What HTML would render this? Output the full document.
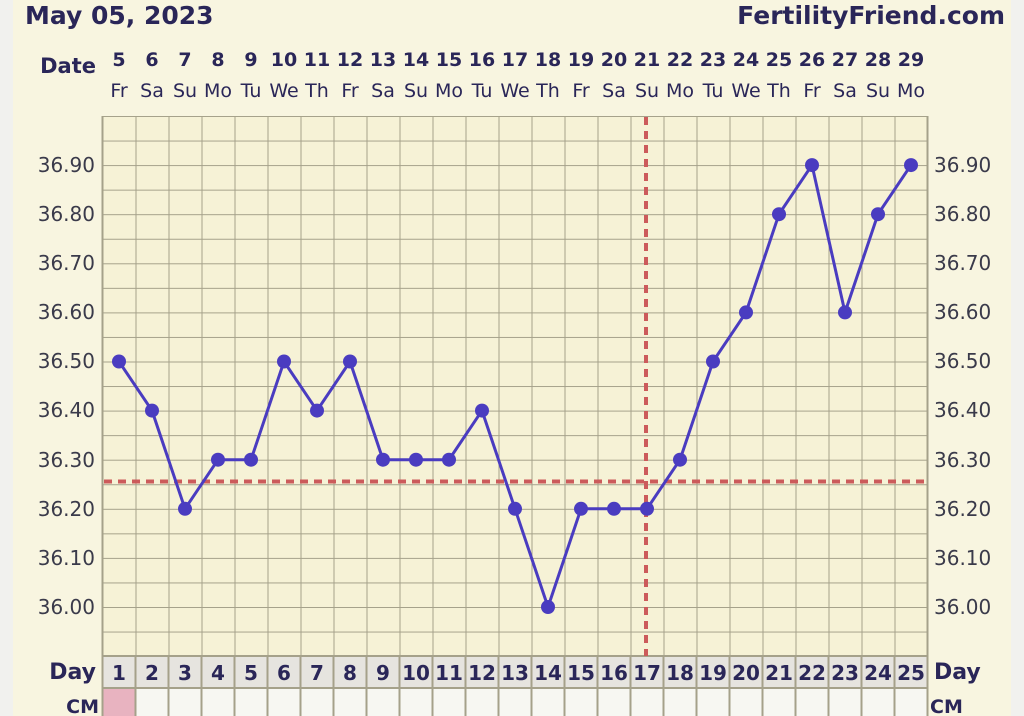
<!DOCTYPE html>
<html><head><meta charset="utf-8"><style>
html,body{margin:0;padding:0;background:#f1f1ee;}
svg{display:block;font-family:"DejaVu Sans","Liberation Sans",sans-serif;}
</style></head><body>
<svg width="1024" height="716" viewBox="0 0 1024 716" xmlns="http://www.w3.org/2000/svg">
<defs>
<pattern id="g" x="102.5" y="116" width="33" height="24.55" patternUnits="userSpaceOnUse">
<path d="M0 0H33M0 0V24.55" stroke="#a5a18a" stroke-width="2" fill="none"/>
</pattern>
</defs>
<rect x="13" y="0" width="998" height="716" fill="#f8f5e0"/>
<rect x="102.5" y="116" width="825" height="540" fill="#f6f2d6"/>
<rect x="102.5" y="116" width="825" height="540" fill="url(#g)"/>
<rect x="102.5" y="656" width="825" height="32" fill="#e6e4df"/>
<rect x="102.5" y="688" width="825" height="28" fill="#f7f7f2"/>
<rect x="103.5" y="689" width="32" height="27" fill="#e8b3c0"/>
<g stroke="#a5a18a" stroke-width="2">
<path d="M102.5 116V716M135.5 656V716M168.5 656V716M201.5 656V716M234.5 656V716M267.5 656V716M300.5 656V716M333.5 656V716M366.5 656V716M399.5 656V716M432.5 656V716M465.5 656V716M498.5 656V716M531.5 656V716M564.5 656V716M597.5 656V716M630.5 656V716M663.5 656V716M696.5 656V716M729.5 656V716M762.5 656V716M795.5 656V716M828.5 656V716M861.5 656V716M894.5 656V716M927.5 116V716M102.5 656H927.5M102.5 688H927.5"/>
</g>
<g font-weight="bold" fill="#2a2658">
<text x="25" y="24" font-size="25">May 05, 2023</text>
<text x="1005" y="24" font-size="25" text-anchor="end">FertilityFriend.com</text>
<text x="96" y="73" font-size="21" text-anchor="end">Date</text>
<text x="96" y="679" font-size="22" text-anchor="end">Day</text>
<text x="934" y="679" font-size="22">Day</text>
<text x="99" y="713" font-size="19" text-anchor="end">CM</text>
<text x="930" y="713" font-size="19">CM</text>
</g>
<g font-weight="bold" fill="#2a2658" font-size="19" text-anchor="middle">
<text x="119" y="66">5</text><text x="152" y="66">6</text><text x="185" y="66">7</text><text x="218" y="66">8</text><text x="251" y="66">9</text><text x="284" y="66">10</text><text x="317" y="66">11</text><text x="350" y="66">12</text><text x="383" y="66">13</text><text x="416" y="66">14</text><text x="449" y="66">15</text><text x="482" y="66">16</text><text x="515" y="66">17</text><text x="548" y="66">18</text><text x="581" y="66">19</text><text x="614" y="66">20</text><text x="647" y="66">21</text><text x="680" y="66">22</text><text x="713" y="66">23</text><text x="746" y="66">24</text><text x="779" y="66">25</text><text x="812" y="66">26</text><text x="845" y="66">27</text><text x="878" y="66">28</text><text x="911" y="66">29</text>
</g>
<g font-weight="bold" fill="#2a2658" font-size="20" text-anchor="middle">
<text x="119" y="680">1</text><text x="152" y="680">2</text><text x="185" y="680">3</text><text x="218" y="680">4</text><text x="251" y="680">5</text><text x="284" y="680">6</text><text x="317" y="680">7</text><text x="350" y="680">8</text><text x="383" y="680">9</text><text x="416" y="680">10</text><text x="449" y="680">11</text><text x="482" y="680">12</text><text x="515" y="680">13</text><text x="548" y="680">14</text><text x="581" y="680">15</text><text x="614" y="680">16</text><text x="647" y="680">17</text><text x="680" y="680">18</text><text x="713" y="680">19</text><text x="746" y="680">20</text><text x="779" y="680">21</text><text x="812" y="680">22</text><text x="845" y="680">23</text><text x="878" y="680">24</text><text x="911" y="680">25</text>
</g>
<g fill="#2a2658" font-size="19" text-anchor="middle">
<text x="119" y="97">Fr</text><text x="152" y="97">Sa</text><text x="185" y="97">Su</text><text x="218" y="97">Mo</text><text x="251" y="97">Tu</text><text x="284" y="97">We</text><text x="317" y="97">Th</text><text x="350" y="97">Fr</text><text x="383" y="97">Sa</text><text x="416" y="97">Su</text><text x="449" y="97">Mo</text><text x="482" y="97">Tu</text><text x="515" y="97">We</text><text x="548" y="97">Th</text><text x="581" y="97">Fr</text><text x="614" y="97">Sa</text><text x="647" y="97">Su</text><text x="680" y="97">Mo</text><text x="713" y="97">Tu</text><text x="746" y="97">We</text><text x="779" y="97">Th</text><text x="812" y="97">Fr</text><text x="845" y="97">Sa</text><text x="878" y="97">Su</text><text x="911" y="97">Mo</text>
</g>
<g fill="#3a3a4a" font-size="20">
<g text-anchor="end">
<text x="95" y="172">36.90</text><text x="95" y="221">36.80</text><text x="95" y="270">36.70</text><text x="95" y="319">36.60</text><text x="95" y="368">36.50</text><text x="95" y="417">36.40</text><text x="95" y="467">36.30</text><text x="95" y="516">36.20</text><text x="95" y="565">36.10</text><text x="95" y="614">36.00</text>
</g>
<text x="934" y="172">36.90</text><text x="934" y="221">36.80</text><text x="934" y="270">36.70</text><text x="934" y="319">36.60</text><text x="934" y="368">36.50</text><text x="934" y="417">36.40</text><text x="934" y="467">36.30</text><text x="934" y="516">36.20</text><text x="934" y="565">36.10</text><text x="934" y="614">36.00</text>
</g>
<g stroke="#cc5b5b" stroke-width="4" stroke-dasharray="8 6" fill="none">
<path d="M104 481.5H927"/>
<path d="M646 117V656"/>
</g>
<polyline fill="none" stroke="#4a3cc0" stroke-width="3" points="119,361.5 152,410.6 185,508.8 218,459.7 251,459.7 284,361.5 317,410.6 350,361.5 383,459.7 416,459.7 449,459.7 482,410.6 515,508.8 548,607 581,508.8 614,508.8 647,508.8 680,459.7 713,361.5 746,312.4 779,214.2 812,165.1 845,312.4 878,214.2 911,165.1"/>
<g fill="#4a3cc0">
<circle cx="119" cy="361.5" r="7"/><circle cx="152" cy="410.6" r="7"/><circle cx="185" cy="508.8" r="7"/><circle cx="218" cy="459.7" r="7"/><circle cx="251" cy="459.7" r="7"/><circle cx="284" cy="361.5" r="7"/><circle cx="317" cy="410.6" r="7"/><circle cx="350" cy="361.5" r="7"/><circle cx="383" cy="459.7" r="7"/><circle cx="416" cy="459.7" r="7"/><circle cx="449" cy="459.7" r="7"/><circle cx="482" cy="410.6" r="7"/><circle cx="515" cy="508.8" r="7"/><circle cx="548" cy="607" r="7"/><circle cx="581" cy="508.8" r="7"/><circle cx="614" cy="508.8" r="7"/><circle cx="647" cy="508.8" r="7"/><circle cx="680" cy="459.7" r="7"/><circle cx="713" cy="361.5" r="7"/><circle cx="746" cy="312.4" r="7"/><circle cx="779" cy="214.2" r="7"/><circle cx="812" cy="165.1" r="7"/><circle cx="845" cy="312.4" r="7"/><circle cx="878" cy="214.2" r="7"/><circle cx="911" cy="165.1" r="7"/>
</g>
</svg>
</body></html>
